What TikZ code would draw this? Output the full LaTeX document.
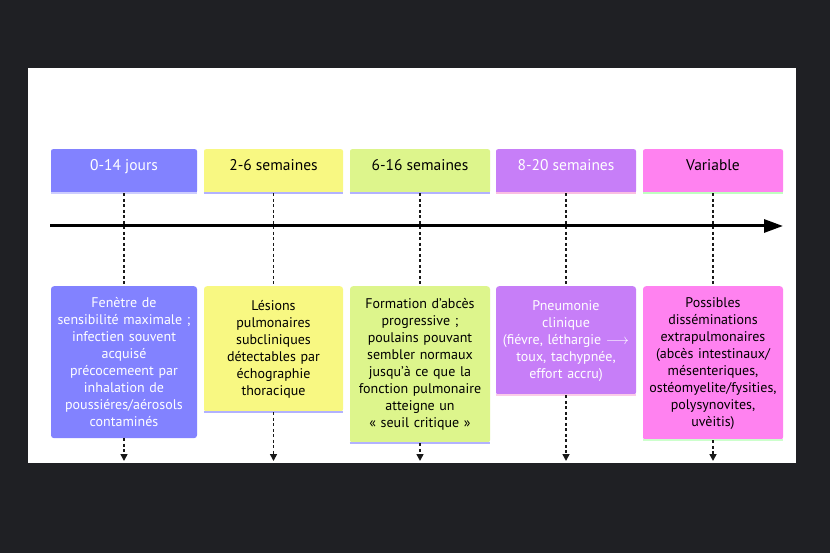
\documentclass[tikz,border=0pt]{standalone}
\usepackage{fontspec}
\setmainfont{PT Sans}
\usepackage{xcolor}
\usetikzlibrary{arrows.meta}
\usetikzlibrary{positioning}
\definecolor{fond}{HTML}{1F2024}
\definecolor{bleu}{HTML}{8282FF}
\definecolor{jaune}{HTML}{F8F882}
\definecolor{vert}{HTML}{DDF58C}
\definecolor{violet}{HTML}{C77EF8}
\definecolor{rose}{HTML}{FF82F0}
\tikzset{
  entete/.style={fill=#1, rounded corners=2pt, anchor=north, inner sep=0pt, text height=21pt, text depth=23pt, font=\fontsize{15.5}{17}\selectfont},
  bloc/.style={fill=#1, rounded corners=3pt, anchor=north, inner sep=0pt, align=center, font=\fontsize{14}{17}\selectfont},
  bordure/.style={line width=2pt, draw=#1},
  pointille/.style={line width=1.6pt, dash pattern=on 3pt off 2.5pt, draw=black!90},
  axe/.style={line width=3pt, -{Triangle[length=19pt, width=13pt]}},
}

\begin{document}
\begin{tikzpicture}[x=1pt, y=-1pt]
  % fond et panneau
  \fill[fond] (0,0) rectangle (830,553);
  \fill[white] (28,68) rectangle (796,463);
  \useasboundingbox (0,0) rectangle (830,553);

  % en-tetes
  \node[entete=bleu, minimum width=146pt, text=white] (h1) at (124,149) {0-14 jours};
  \node[entete=jaune, minimum width=139pt] (h2) at (273.5,149) {2-6 semaines};
  \node[entete=vert, minimum width=140pt] (h3) at (420,149) {6-16 semaines};
  \node[entete=violet, minimum width=140pt, text=white] (h4) at (566,149) {8-20 semaines};
  \node[entete=rose, minimum width=140pt] (h5) at (713,149) {Variable};
  \draw[bordure=bleu!40] (h1.south west) -- (h1.south east);
  \draw[bordure=blue!30] (h2.south west) -- (h2.south east);
  \draw[bordure=blue!30] (h3.south west) -- (h3.south east);
  \draw[bordure=magenta!25] (h4.south west) -- (h4.south east);
  \draw[bordure=green!25] (h5.south west) -- (h5.south east);

  % descriptions
  \node[bloc=bleu, minimum width=146pt, minimum height=152pt, text width=140pt, text=white] (t1) at (124,286)
    {Fenètre de\\sensibilité maximale ;\\infectien souvent\\acquisé\\précocemeent par\\inhalation de\\poussiéres/aérosols\\contaminés};
  \node[bloc=jaune, minimum width=139pt, minimum height=126pt, text width=133pt] (t2) at (273.5,286)
    {Lésions\\pulmonaires\\subcliniques\\détectables par\\échographie\\thoracique};
  \node[bloc=vert, minimum width=140pt, minimum height=157pt, text width=136pt] (t3) at (420,286)
    {Formation d’abcès\\progressive ;\\poulains pouvant\\sembler normaux\\jusqu’à ce que la\\fonction pulmonaire\\atteigne un\\« seuil critique »};
  \node[bloc=violet, minimum width=140pt, minimum height=109pt, text width=136pt, text=white] (t4) at (566,286)
    {Pneumonie\\clinique\\(fiévre, léthargie $\longrightarrow$\\toux, tachypnée,\\effort accru)};
  \node[bloc=rose, minimum width=140pt, minimum height=154pt, text width=136pt] (t5) at (713,286)
    {Possibles\\disséminations\\extrapulmonaires\\(abcès intestinaux/\\mésenteriques,\\ostéomyelite/fysities,\\polysynovites,\\uvèitis)};
  \draw[bordure=blue!30] (t2.south west) -- (t2.south east);
  \draw[bordure=blue!30] (t3.south west) -- (t3.south east);
  \draw[bordure=magenta!20] (t4.south west) -- (t4.south east);
  \draw[bordure=green!20] (t5.south west) -- (t5.south east);

  % fins des fleches
  \coordinate (f1) at (124,461);
  \coordinate (f2) at (273.5,461);
  \coordinate (f3) at (420,461);
  \coordinate (f4) at (566,461);
  \coordinate (f5) at (713,461);

  \foreach \i in {1,...,5} {
    \draw[pointille] (h\i.south) -- (t\i.north);
    \draw[pointille, -{Triangle[length=7pt, width=7pt]}] (t\i.south) -- (f\i);
  }

  % axe du temps
  \coordinate (debut) at (50,226);
  \coordinate (fin) at (783,226);
  \draw[axe] (debut) -- (fin);
\end{tikzpicture}
\end{document}
